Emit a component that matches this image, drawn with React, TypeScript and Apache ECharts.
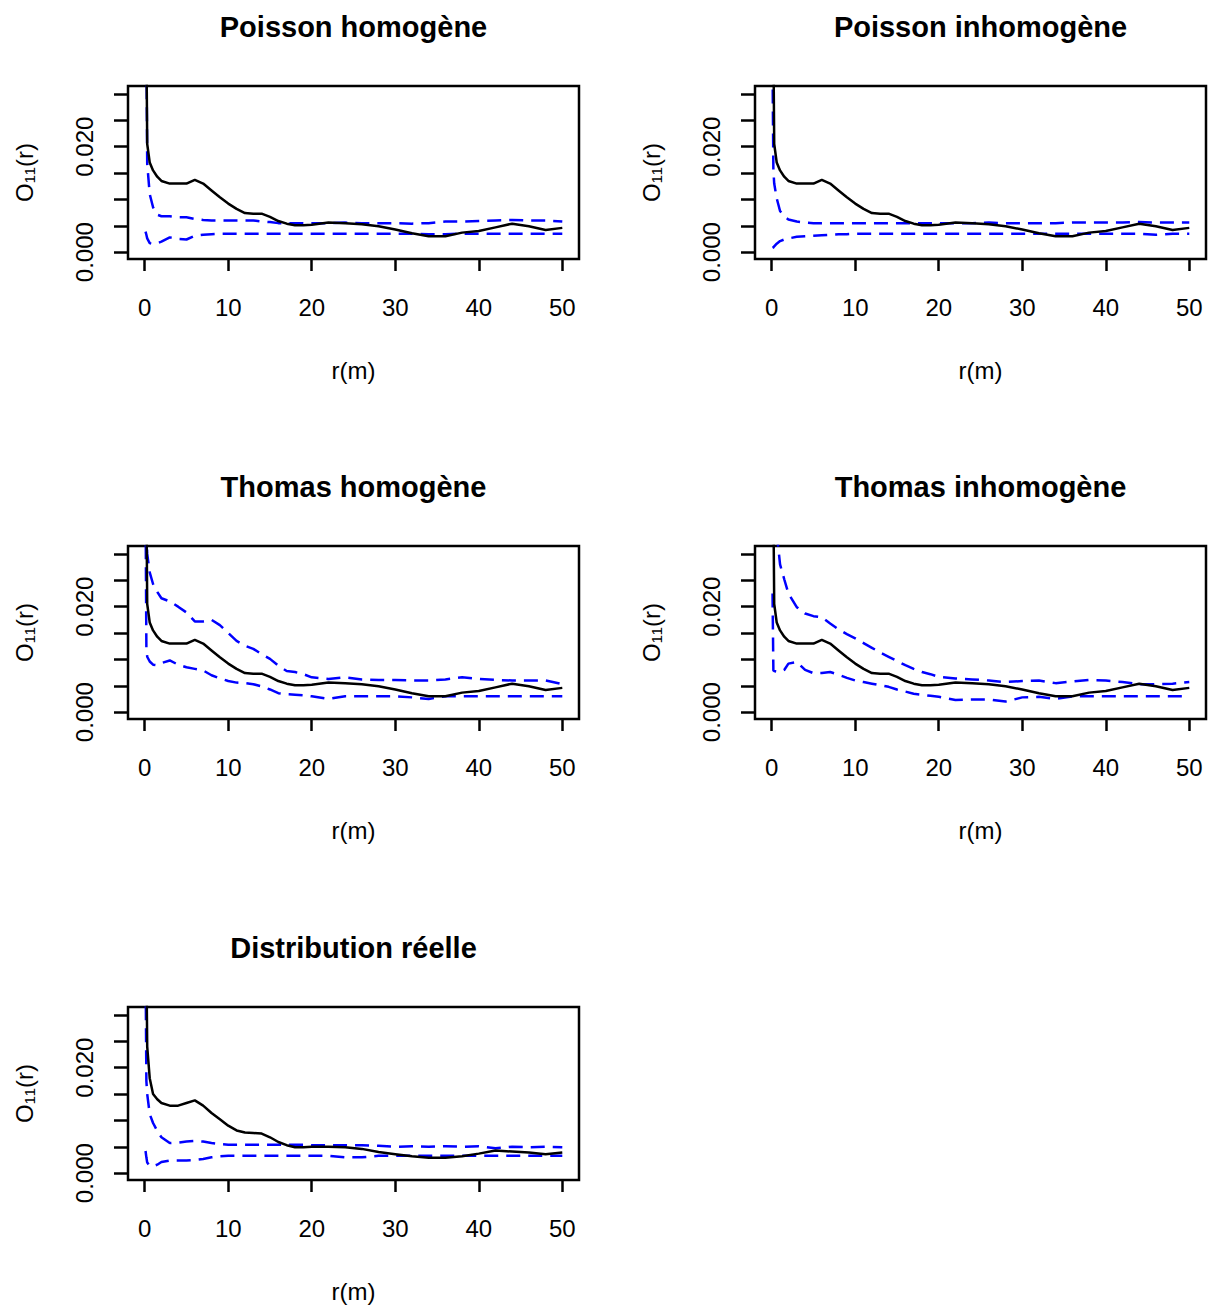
import React, { useEffect, useRef } from "react";
import * as echarts from "echarts";

// distance r (m) grid shared by all curves
const rValues = [0.1, 0.2, 0.3, 0.6, 1, 1.5, 2, 3, 4, 5, 6, 7, 8, 9, 10, 11, 12, 13, 14, 15, 16, 17, 18, 19, 20, 22, 24, 26, 28, 30, 32, 34, 36, 38, 40, 42, 44, 46, 48, 50];

// observed O11(r) (panels 1-4)
const observedModel = [null, 0.04, 0.0205, 0.017, 0.0155, 0.0143, 0.0135, 0.013, 0.013, 0.013, 0.0137, 0.013, 0.0117, 0.0104, 0.0092, 0.0082, 0.0074, 0.0073, 0.0073, 0.0067, 0.0059, 0.0054, 0.0051, 0.0051, 0.0052, 0.0056, 0.0055, 0.0053, 0.0049, 0.0043, 0.0036, 0.003, 0.003, 0.0037, 0.004, 0.0047, 0.0054, 0.0049, 0.0042, 0.0046];

const hiPoissonHom = [null, 0.04, 0.0168, 0.011, 0.0085, 0.0071, 0.0068, 0.0068, 0.0066, 0.0066, 0.0063, 0.0061, 0.006, 0.006, 0.006, 0.006, 0.006, 0.006, 0.0058, 0.0057, 0.0055, 0.0055, 0.0055, 0.0055, 0.0055, 0.0055, 0.0056, 0.0055, 0.0055, 0.0055, 0.0054, 0.0055, 0.0058, 0.0058, 0.0059, 0.006, 0.0061, 0.006, 0.006, 0.0058];
const loPoissonHom = [0.0039, 0.0033, 0.0026, 0.0017, 0.0015, 0.0017, 0.002, 0.0028, 0.0025, 0.0024, 0.0031, 0.0033, 0.0034, 0.0035, 0.0035, 0.0035, 0.0035, 0.0035, 0.0035, 0.0035, 0.0035, 0.0035, 0.0035, 0.0035, 0.0035, 0.0035, 0.0035, 0.0035, 0.0035, 0.0035, 0.0035, 0.0034, 0.0034, 0.0035, 0.0035, 0.0035, 0.0035, 0.0035, 0.0035, 0.0035];

const hiPoissonInh = [0.035, 0.0156, 0.013, 0.0102, 0.0078, 0.0068, 0.0062, 0.0058, 0.0056, 0.0055, 0.0055, 0.0055, 0.0055, 0.0055, 0.0055, 0.0055, 0.0055, 0.0055, 0.0055, 0.0055, 0.0055, 0.0055, 0.0055, 0.0055, 0.0055, 0.0055, 0.0055, 0.0056, 0.0055, 0.0055, 0.0055, 0.0055, 0.0056, 0.0056, 0.0056, 0.0056, 0.0057, 0.0056, 0.0056, 0.0056];
const loPoissonInh = [0.0008, 0.0009, 0.0011, 0.0016, 0.0021, 0.0024, 0.0026, 0.0029, 0.003, 0.0031, 0.0032, 0.0033, 0.0034, 0.0034, 0.0035, 0.0035, 0.0035, 0.0035, 0.0035, 0.0035, 0.0035, 0.0035, 0.0035, 0.0035, 0.0035, 0.0035, 0.0035, 0.0035, 0.0035, 0.0035, 0.0035, 0.0035, 0.0035, 0.0035, 0.0035, 0.0035, 0.0035, 0.0033, 0.0035, 0.0035];

const hiThomasHom = [null, 0.035, 0.03, 0.0265, 0.0243, 0.0228, 0.0216, 0.021, 0.02, 0.0189, 0.0172, 0.0172, 0.0175, 0.0165, 0.015, 0.0135, 0.0126, 0.012, 0.011, 0.0101, 0.0088, 0.0078, 0.0076, 0.0072, 0.0066, 0.0063, 0.0066, 0.0062, 0.0061, 0.0061, 0.006, 0.006, 0.0062, 0.0066, 0.0063, 0.0061, 0.006, 0.006, 0.006, 0.0053];
const loThomasHom = [0.04, 0.0123, 0.0105, 0.0096, 0.009, 0.0089, 0.0093, 0.0098, 0.009, 0.0085, 0.0082, 0.0079, 0.007, 0.0064, 0.0059, 0.0056, 0.0055, 0.0053, 0.0049, 0.0043, 0.0036, 0.0034, 0.0033, 0.0032, 0.003, 0.0025, 0.003, 0.003, 0.003, 0.003, 0.0028, 0.0025, 0.003, 0.003, 0.003, 0.003, 0.003, 0.003, 0.003, 0.003];

const hiThomasInh = [null, null, null, 0.034, 0.028, 0.0252, 0.0225, 0.0199, 0.0187, 0.0182, 0.018, 0.0168, 0.0157, 0.0148, 0.014, 0.0131, 0.0122, 0.0113, 0.0105, 0.0097, 0.0089, 0.0082, 0.0076, 0.0072, 0.0067, 0.0064, 0.0062, 0.006, 0.0057, 0.0059, 0.006, 0.0055, 0.0058, 0.0061, 0.006, 0.0057, 0.0053, 0.0053, 0.0054, 0.0057];
const loThomasInh = [0.0225, 0.0079, 0.0078, 0.0077, 0.0076, 0.008, 0.0092, 0.0095, 0.008, 0.0074, 0.0074, 0.0076, 0.0071, 0.0065, 0.006, 0.0057, 0.0054, 0.0051, 0.0048, 0.0043, 0.0039, 0.0035, 0.0033, 0.0031, 0.0029, 0.0023, 0.0024, 0.0024, 0.002, 0.0028, 0.0029, 0.0025, 0.003, 0.003, 0.003, 0.003, 0.003, 0.003, 0.003, 0.003];

const observedReal = [null, 0.04, 0.024, 0.018, 0.015, 0.014, 0.0133, 0.0128, 0.0128, 0.0133, 0.0138, 0.0128, 0.0114, 0.0102, 0.009, 0.0081, 0.0077, 0.0076, 0.0075, 0.0068, 0.0059, 0.0053, 0.0049, 0.0049, 0.005, 0.005, 0.0049, 0.0046, 0.004, 0.0036, 0.0032, 0.0029, 0.0029, 0.0032, 0.0037, 0.0043, 0.0041, 0.0039, 0.0036, 0.0039];
const hiReal = [0.04, 0.0175, 0.015, 0.0112, 0.0095, 0.008, 0.0068, 0.0057, 0.0058, 0.006, 0.0061, 0.006, 0.0057, 0.0055, 0.0054, 0.0054, 0.0054, 0.0054, 0.0054, 0.0054, 0.0054, 0.0054, 0.0054, 0.0054, 0.0053, 0.0053, 0.0053, 0.0053, 0.0052, 0.005, 0.0051, 0.005, 0.0051, 0.005, 0.0051, 0.0047, 0.005, 0.0049, 0.005, 0.0049];
const loReal = [0.0042, 0.003, 0.002, 0.0014, 0.0013, 0.0016, 0.0021, 0.0024, 0.0024, 0.0024, 0.0025, 0.0027, 0.003, 0.0032, 0.0033, 0.0033, 0.0033, 0.0033, 0.0033, 0.0033, 0.0033, 0.0033, 0.0033, 0.0033, 0.0033, 0.0033, 0.003, 0.003, 0.0033, 0.0033, 0.0033, 0.0033, 0.0033, 0.0033, 0.0033, 0.0033, 0.0033, 0.0033, 0.0033, 0.0033];

const panelTitles = ["Poisson homogène", "Poisson inhomogène", "Thomas homogène", "Thomas inhomogène", "Distribution réelle"];
const panelObserved = [observedModel, observedModel, observedModel, observedModel, observedReal];
const panelHi = [hiPoissonHom, hiPoissonInh, hiThomasHom, hiThomasInh, hiReal];
const panelLo = [loPoissonHom, loPoissonInh, loThomasHom, loThomasInh, loReal];

const xTickValues = [0, 10, 20, 30, 40, 50];
const yTickValues = [0, 0.005, 0.01, 0.015, 0.02, 0.025, 0.03];
const yLabelValues = [0, 0.02];
const xAxisTitle = "r(m)";
const yAxisTitle = "O₁₁(r)";

const FONT = "'Liberation Sans', Arial, sans-serif";
const colLeft = [128, 755];
const rowTop = [86, 546, 1007];
const GRID_W = 451;
const GRID_H = 173;

function pairs(values: (number | null)[]) {
  return rValues.map((r, i) => [r, values[i]]);
}

export default function App() {
  const ref = useRef<HTMLDivElement>(null);
  useEffect(() => {
    if (!ref.current) return;
    const chart = echarts.init(ref.current, undefined, { renderer: "svg" });
    const grids: any[] = [];
    const xAxes: any[] = [];
    const yAxes: any[] = [];
    const series: any[] = [];
    const titles: any[] = [];
    panelTitles.forEach((t, i) => {
      const col = i % 2;
      const row = Math.floor(i / 2);
      const left = colLeft[col];
      const top = rowTop[row];
      grids.push({
        left,
        top,
        width: GRID_W,
        height: GRID_H,
        show: true,
        borderColor: "#000",
        borderWidth: 2.5,
        backgroundColor: "#fff",
        containLabel: false,
      });
      titles.push({
        text: t,
        left: left + GRID_W / 2,
        top: top - 74,
        textAlign: "center",
        padding: 0,
        textStyle: { fontFamily: FONT, fontSize: 29, fontWeight: "bold", color: "#000" },
      });
      xAxes.push({
        type: "value",
        gridIndex: i,
        min: -2,
        max: 52,
        axisLine: { show: false, onZero: false },
        splitLine: { show: false },
        axisTick: { show: true, length: 12, lineStyle: { color: "#000", width: 2.5 }, customValues: xTickValues },
        axisLabel: { customValues: xTickValues, margin: 36, fontFamily: FONT, fontSize: 24, color: "#000" },
        name: xAxisTitle,
        nameLocation: "middle",
        nameGap: 99,
        nameTextStyle: { fontFamily: FONT, fontSize: 24, color: "#000" },
      });
      yAxes.push({
        type: "value",
        gridIndex: i,
        min: -0.0013,
        max: 0.0315,
        axisLine: { show: false, onZero: false },
        splitLine: { show: false },
        axisTick: { show: true, length: 14, lineStyle: { color: "#000", width: 2.5 }, customValues: yTickValues },
        axisLabel: {
          customValues: yLabelValues,
          rotate: 90,
          margin: 32,
          fontFamily: FONT,
          fontSize: 24,
          color: "#000",
          formatter: (v: number) => v.toFixed(3),
        },
        name: yAxisTitle,
        nameLocation: "middle",
        nameGap: 92,
        nameTextStyle: { fontFamily: FONT, fontSize: 24, color: "#000" },
      });
      const base = { type: "line", xAxisIndex: i, yAxisIndex: i, showSymbol: false, symbol: "none", clip: true, silent: true };
      series.push({ ...base, name: t + " hi", data: pairs(panelHi[i]), lineStyle: { color: "#0000ff", width: 2.5, type: [14, 8] } });
      series.push({ ...base, name: t + " lo", data: pairs(panelLo[i]), lineStyle: { color: "#0000ff", width: 2.5, type: [14, 8] } });
      series.push({ ...base, name: t + " obs", data: pairs(panelObserved[i]), lineStyle: { color: "#000", width: 2.5, type: "solid" } });
    });
    chart.setOption({
      animation: false,
      backgroundColor: "#fff",
      title: titles,
      grid: grids,
      xAxis: xAxes,
      yAxis: yAxes,
      series,
    });
    return () => chart.dispose();
  }, []);
  return <div ref={ref} style={{ position: "absolute", left: 0, top: 0, width: 1213, height: 1307 }} />;
}
